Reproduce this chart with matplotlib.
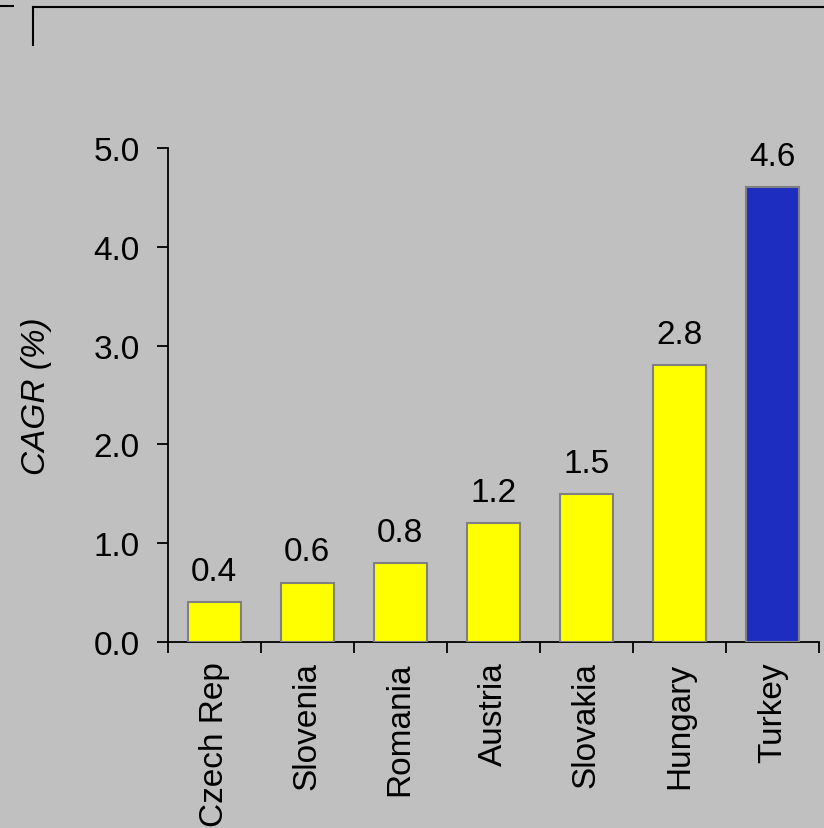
import matplotlib
matplotlib.use("Agg")
import matplotlib.pyplot as plt
from matplotlib.lines import Line2D

# data
countries = ["Czech Rep", "Slovenia", "Romania", "Austria", "Slovakia", "Hungary", "Turkey"]
cagr = [0.4, 0.6, 0.8, 1.2, 1.5, 2.8, 4.6]
bar_colors = ["#FFFF00"] * 6 + ["#1C2DBF"]

bg = "#C0C0C0"
fs = 24
plt.rcParams["font.family"] = ["Liberation Sans", "DejaVu Sans"]

fig = plt.figure(figsize=(8.24, 8.29), dpi=100, facecolor=bg)
ax = fig.add_axes([0.2033, 0.2244, 0.7906, 0.5959])
ax.set_facecolor(bg)

x = list(range(len(countries)))
ax.bar(x, cagr, width=0.57, color=bar_colors, edgecolor="#808080", linewidth=1.5, zorder=3)

# value labels above the bars
for xi, v in zip(x, cagr):
    ax.annotate(f"{v:.1f}", (xi, v), xytext=(0, 16), textcoords="offset points",
                ha="center", va="baseline", fontsize=fs)

ax.set_xlim(-0.5, len(countries) - 0.5)
ax.set_ylim(0, 5.0)
yt = [0, 1, 2, 3, 4, 5]
ax.set_yticks(yt)
ax.set_yticklabels([f"{t:.1f}" for t in yt], fontsize=fs)
ax.tick_params(axis="y", direction="out", length=8, width=1.3, pad=12)

# x ticks on the category boundaries, names in the middle
ax.set_xticks([i - 0.5 for i in range(len(countries) + 1)])
ax.set_xticklabels([])
ax.set_xticks(x, minor=True)
ax.set_xticklabels(countries, minor=True, rotation=90, fontsize=fs)
ax.tick_params(axis="x", which="major", direction="out", length=8, width=1.3)
ax.tick_params(axis="x", which="minor", length=0, pad=14)

for s in ["top", "right"]:
    ax.spines[s].set_visible(False)
ax.spines["left"].set_linewidth(1.3)
ax.spines["bottom"].set_linewidth(1.3)

ax.set_ylabel("CAGR (%)", fontsize=fs, style="italic", labelpad=30)

# frame lines at the top of the slide
fig.add_artist(Line2D([33 / 824, 1.0], [1 - 8 / 829, 1 - 8 / 829], color="black", lw=1.5))
fig.add_artist(Line2D([33 / 824, 33 / 824], [1 - 8 / 829, 1 - 46 / 829], color="black", lw=1.5))
fig.add_artist(Line2D([0, 13 / 824], [1 - 7 / 829, 1 - 7 / 829], color="black", lw=1.5))

fig.savefig("out.png", dpi=100, facecolor=bg)
